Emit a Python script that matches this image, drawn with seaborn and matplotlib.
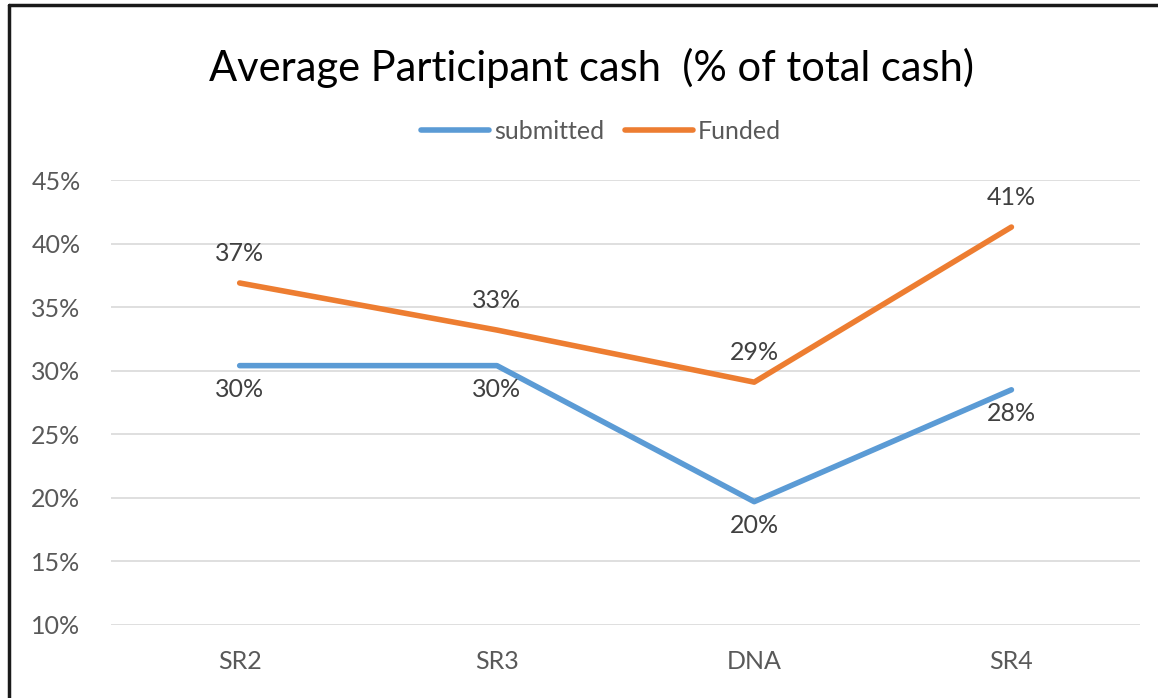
import matplotlib
matplotlib.use("Agg")
import matplotlib.pyplot as plt
from matplotlib.lines import Line2D
from matplotlib.ticker import PercentFormatter
import pandas as pd
import seaborn as sns

# data
CATEGORIES = ["SR2", "SR3", "DNA", "SR4"]
SUBMITTED = [0.304, 0.304, 0.197, 0.285]
FUNDED = [0.369, 0.332, 0.291, 0.413]
SERIES = ["submitted", "Funded"]
COLORS = {"submitted": "#5B9BD5", "Funded": "#ED7D31"}
Y_TICKS = [0.10, 0.15, 0.20, 0.25, 0.30, 0.35, 0.40, 0.45]

TITLE = "Average Participant cash  (% of total cash)"

sns.set_style("white")
plt.rcParams["font.family"] = ["Lato", "DejaVu Sans"]

# long form table for seaborn
df = pd.DataFrame({
    "cat": CATEGORIES * 2,
    "value": SUBMITTED + FUNDED,
    "series": [SERIES[0]] * len(CATEGORIES) + [SERIES[1]] * len(CATEGORIES),
})

fig = plt.figure(figsize=(11.58, 6.98), dpi=100)
ax = fig.add_axes([0.0959, 0.1046, 0.8886, 0.6375])

sns.lineplot(data=df, x="cat", y="value", hue="series", palette=COLORS,
             sort=False, linewidth=4.0, ax=ax, legend=False)

# data labels: funded above, submitted below
for i, cat in enumerate(CATEGORIES):
    ax.annotate(f"{FUNDED[i]:.0%}", (i, FUNDED[i]), xytext=(0, 21),
                textcoords="offset points", ha="center", va="center",
                fontsize=18, color="#404040")
    ax.annotate(f"{SUBMITTED[i]:.0%}", (i, SUBMITTED[i]), xytext=(0, -17),
                textcoords="offset points", ha="center", va="center",
                fontsize=18, color="#404040")

ax.set_xlim(-0.5, len(CATEGORIES) - 0.5)
ax.set_ylim(0.10, 0.45)
ax.set_yticks(Y_TICKS)
ax.yaxis.set_major_formatter(PercentFormatter(1.0, decimals=0))
ax.grid(axis="y", color="#D9D9D9", linewidth=1.2)
ax.grid(axis="x", visible=False)
ax.set_axisbelow(True)
ax.set_xlabel("")
ax.set_ylabel("")
ax.tick_params(axis="both", length=0, labelsize=18, labelcolor="#595959")
ax.tick_params(axis="y", pad=22)
ax.tick_params(axis="x", pad=18)
for s in ax.spines.values():
    s.set_visible(False)

fig.text(0.511, 0.9026, TITLE, ha="center", va="center", fontsize=30,
         color="#000000")

handles = [Line2D([], [], color=COLORS[s], linewidth=4.0) for s in SERIES]
fig.legend(handles, SERIES, loc="center", bbox_to_anchor=(0.519, 0.8123),
           ncol=2, frameon=False, fontsize=18, handlelength=2.7,
           handletextpad=0.2, columnspacing=0.85, labelcolor="#595959")

# chart frame (only top and left edges are visible in the crop)
fig.add_artist(Line2D([9 / 1158, 1], [1 - 5 / 698, 1 - 5 / 698],
                      transform=fig.transFigure, color="#1a1a1a", linewidth=2.5))
fig.add_artist(Line2D([9 / 1158, 9 / 1158], [0, 1 - 5 / 698],
                      transform=fig.transFigure, color="#1a1a1a", linewidth=2.5))

fig.savefig("out.png", dpi=100)
